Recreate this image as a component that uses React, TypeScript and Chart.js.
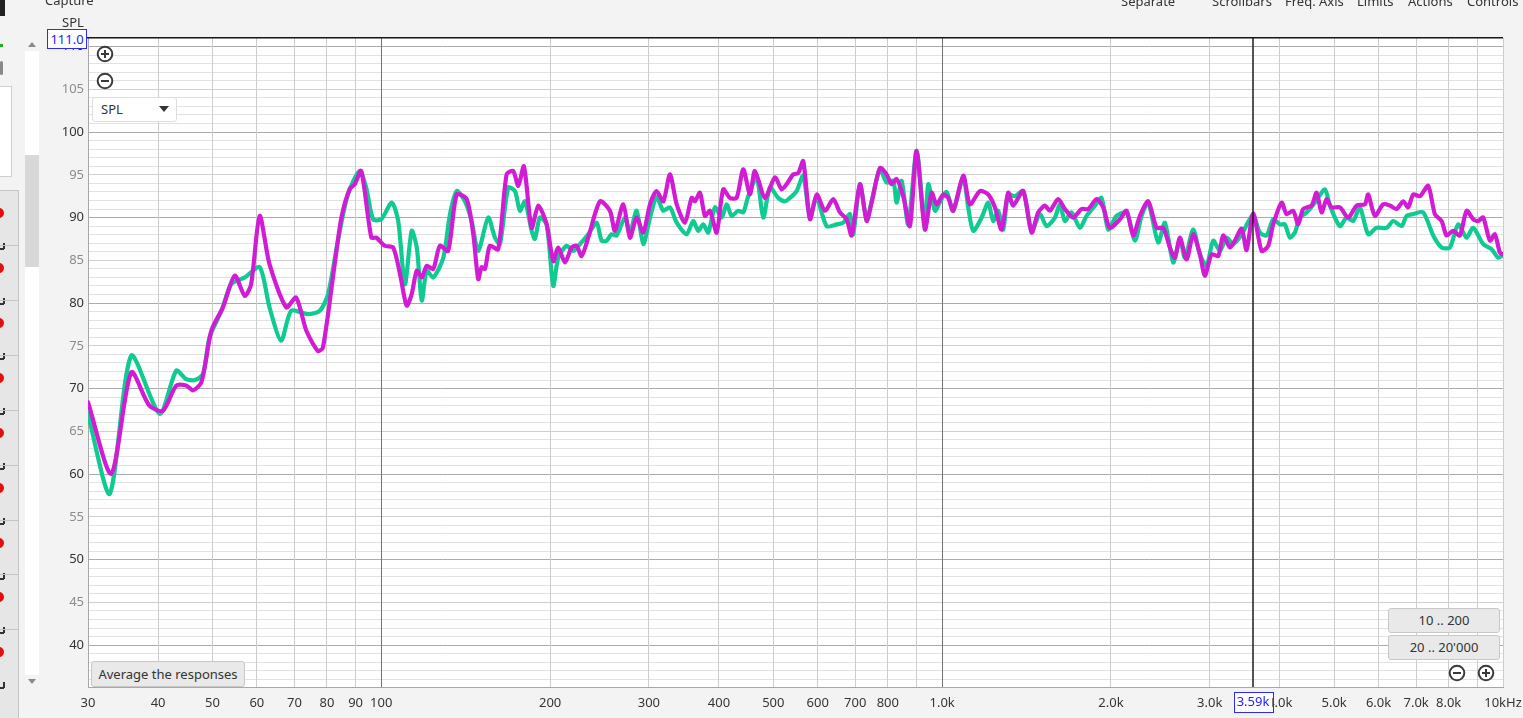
import React, { useEffect, useRef } from "react";
import { Chart, registerables } from "chart.js";

Chart.register(...registerables);

// ---- Data ----
const greenFreq = [
  30, 32.8, 35.83, 40.27, 43.1, 44.9, 46.5, 48.1, 49.4, 51.9,
  54.0, 57.1, 60.7, 63.2, 66.3, 69.1, 74.0, 77.7, 80.4, 83.7,
  87.2, 91.5, 94.0, 96.7, 100, 104.4, 107.2, 110.2, 113.3, 115.7,
  118.1, 120.5, 123.8, 129.0, 132.6, 136.3, 141.0, 144.9, 148.9, 155.1,
  159.5, 162.8, 168.4, 173.1, 176.7, 180.4, 185.4, 187.9, 191.8, 197.2,
  202.6, 206.8, 214.1, 219.9, 226.1, 233.9, 242.1, 247.1, 252.3, 257.5,
  262.8, 272, 277.6, 285.3, 293.2, 301.4, 309.7, 318.3, 327.1, 336.3,
  350.3, 359.9, 367.4, 375, 382.8, 393.5, 404.5, 412.9, 421.4, 433,
  442, 451.1, 467, 479.8, 493.2, 510.2, 524.5, 535.4, 550.3, 565.4,
  581.2, 597.4, 622.4, 648.5, 666.3, 684.9, 694.2, 713.6, 733.5, 748.7,
  774.6, 796.3, 818.1, 829.6, 846.8, 870, 900.6, 931.8, 944.6, 970.9,
  991, 1018.6, 1046.6, 1090.4, 1113, 1136.2, 1176.2, 1208.4, 1233.2, 1258.9,
  1284.9, 1311.6, 1348.2, 1394.9, 1443.8, 1493.8, 1535.5, 1588.7, 1621.8, 1655.3,
  1701.4, 1760.3, 1809.5, 1872.2, 1924.4, 1977.4, 2046.7, 2132.6, 2206.5, 2268,
  2330.2, 2427.9, 2495.6, 2582.3, 2654.3, 2709.3, 2803.2, 2881.4, 2961.7, 3043.1,
  3128, 3215.2, 3303.4, 3419.5, 3513.4, 3586.3, 3686, 3788.7, 3893, 4001.4,
  4084.4, 4169, 4255.5, 4344.1, 4464.8, 4619.6, 4813.1, 4913.1, 5119, 5261.8,
  5406.2, 5557, 5749.4, 5951.2, 6200.8, 6371.1, 6594.6, 6731.2, 6916.5, 7206.1,
  7508.2, 7771.8, 8040.9, 8319.5, 8611.6, 8847.7, 9219.2, 9542.8, 9804.6, 10000,
];
const greenSpl = [
  67.0, 57.7, 73.85, 67.05, 72.1, 71.1, 71.0, 71.7, 76.0, 79.1,
  82.2, 83.0, 84.2, 79.5, 75.6, 79.1, 78.7, 79.1, 81.05, 87.3,
  92.7, 95.45, 93.5, 89.8, 89.8, 91.75, 89.6, 82.2, 88.45, 86.5,
  80.3, 83.8, 83.0, 85.3, 90.4, 93.1, 91.9, 89.6, 86.1, 90.0,
  87.65, 86.9, 93.5, 93.1, 90.8, 91.9, 88.45, 87.5, 90.0, 89.2,
  82.0, 85.3, 86.7, 86.1, 86.9, 88.05, 89.4, 87.3, 87.3, 88.05,
  87.9, 90.0, 88.25, 90.8, 86.9, 90.0, 92.4, 90.8, 91.2, 89.4,
  88.05, 89.6, 88.45, 89.2, 88.25, 91.2, 90.0, 91.55, 90.2, 90.8,
  90.6, 92.5, 94.7, 90.0, 93.5, 92.3, 91.9, 92.3, 93.1, 94.9,
  90.0, 92.3, 89.0, 89.2, 89.4, 90.4, 88.05, 93.9, 89.8, 91.9,
  95.65, 94.1, 94.3, 91.75, 94.3, 89.2, 97.8, 88.8, 93.9, 90.8,
  91.8, 93.0, 90.8, 94.7, 91.2, 88.45, 90.0, 91.75, 89.6, 90.8,
  88.6, 92.7, 92.5, 93.1, 88.45, 90.4, 89.0, 90.0, 91.55, 89.6,
  90.6, 88.8, 90.2, 91.4, 92.3, 88.6, 90.2, 90.6, 87.3, 90.2,
  91.75, 87.1, 89.4, 84.75, 87.5, 85.3, 88.6, 85.7, 84.35, 87.3,
  86.1, 87.65, 86.9, 88.0, 89.5, 90.3, 88.25, 87.9, 89.8, 89.2,
  89.2, 87.65, 88.25, 90.0, 90.6, 91.75, 93.3, 91.4, 89.0, 90.0,
  89.6, 91.2, 88.05, 88.8, 88.8, 89.6, 89.0, 90.2, 90.4, 90.6,
  87.9, 86.5, 86.5, 89.2, 87.65, 88.8, 86.9, 86.3, 85.3, 85.6,
];

const magentaFreq = [
  30, 33.0, 35.83, 38.6, 40.8, 43.1, 44.9, 46.2, 47.8, 49.8,
  52.2, 54.8, 57.1, 58.6, 60.7, 63.2, 67.7, 70.5, 73.5, 77.1,
  78.7, 82.6, 84.9, 87.8, 89.7, 92.1, 96.0, 98.0, 101.4, 105.0,
  108.0, 111.0, 113.3, 115.7, 118.1, 120.5, 123.8, 127.2, 131.6, 136.3,
  142.0, 145.9, 148.9, 151.0, 153.1, 156.2, 161.6, 167.3, 171.9, 175.5,
  179.6, 185.4, 190.5, 197.2, 202.6, 206.8, 212.6, 218.5, 223.0, 227.6,
  233.9, 245.4, 255.7, 261.0, 270.1, 277.6, 285.3, 293.2, 301.4, 309.7,
  318.3, 327.1, 336.3, 347.9, 357.6, 362.5, 370.0, 377.7, 385.5, 396.3,
  407.1, 418.5, 430.2, 442.0, 454.3, 463.7, 483.1, 503.4, 517.4, 528.2,
  542.7, 553.9, 565.4, 581.2, 597.4, 618.1, 639.5, 657.4, 675.7, 689.7,
  713.6, 733.5, 748.7, 774.6, 796.3, 812.8, 829.6, 852.4, 876.1, 900.6,
  931.8, 957.8, 977.6, 1004.5, 1025.3, 1046.6, 1090.4, 1120.8, 1167.8, 1208.4,
  1241.8, 1276.5, 1311.6, 1338.9, 1394.9, 1443.8, 1483.4, 1524.9, 1556.4, 1610.3,
  1655.3, 1712.6, 1772.7, 1821.5, 1885.4, 1937.1, 1991.2, 2074.7, 2132.6, 2191.2,
  2252.2, 2330.2, 2412.0, 2478.3, 2547.5, 2600.3, 2654.3, 2728.3, 2803.2, 2881.4,
  2941.1, 3023.1, 3106.2, 3170.5, 3259.0, 3326.6, 3419.5, 3490.2, 3586.3, 3711.8,
  3813.7, 3893.0, 4029.5, 4113.0, 4225.8, 4313.7, 4403.1, 4557.4, 4652.1, 4748.5,
  4846.8, 4947.5, 5119.0, 5296.5, 5482.5, 5672.3, 5749.4, 5910.6, 6115.6, 6286.1,
  6461.2, 6638.5, 6776.3, 6916.5, 7109.1, 7355.8, 7560.9, 7771.8, 7933.0, 8150.5,
  8377.8, 8611.6, 8847.7, 9031.3, 9219.2, 9476.4, 9672.7, 9873.3, 10000,
];
const magentaSpl = [
  68.4, 60.05, 71.9, 68.0, 67.4, 70.35, 70.35, 69.8, 70.75, 76.8,
  79.5, 83.2, 80.85, 82.2, 90.2, 84.55, 79.5, 80.65, 76.8, 74.4,
  74.8, 84.55, 90.0, 93.3, 93.9, 95.45, 87.65, 87.65, 86.7, 86.5,
  83.4, 79.7, 81.05, 83.8, 83.0, 84.35, 84.0, 86.7, 86.1, 92.7,
  92.15, 88.05, 82.8, 84.2, 84.0, 86.7, 86.3, 95.05, 95.45, 93.7,
  96.0, 88.8, 91.4, 89.2, 84.9, 86.5, 84.75, 86.5, 86.7, 85.5,
  87.65, 91.9, 90.8, 88.45, 91.55, 87.65, 90.0, 88.25, 91.55, 93.1,
  91.9, 95.05, 91.55, 89.4, 92.3, 91.9, 92.9, 90.2, 90.8, 88.25,
  93.3, 92.3, 92.3, 95.65, 92.7, 95.45, 92.3, 94.7, 93.3, 93.9,
  95.05, 95.2, 96.6, 89.8, 92.7, 90.8, 92.15, 90.6, 89.8, 87.9,
  93.9, 89.6, 91.75, 95.8, 95.05, 93.9, 94.5, 92.5, 89.0, 97.8,
  88.6, 92.9, 91.55, 92.7, 92.3, 90.8, 94.9, 91.55, 93.1, 92.7,
  91.2, 88.6, 92.9, 91.4, 93.1, 88.25, 90.6, 91.4, 90.8, 92.15,
  91.0, 90.0, 91.0, 91.0, 92.15, 91.2, 88.8, 89.8, 90.8, 87.9,
  90.2, 91.9, 88.8, 88.8, 86.5, 85.3, 87.65, 85.1, 88.05, 85.7,
  83.2, 85.7, 85.5, 87.9, 86.5, 87.3, 88.7, 86.2, 90.5, 86.1,
  86.7, 89.2, 91.75, 90.4, 90.8, 89.2, 91.0, 91.4, 92.9, 90.6,
  92.15, 91.2, 91.2, 90.0, 91.4, 91.55, 92.7, 90.2, 91.55, 91.4,
  91.0, 91.9, 91.2, 92.7, 92.5, 93.7, 90.4, 89.6, 87.9, 88.45,
  87.9, 90.8, 89.8, 89.6, 90.0, 87.3, 88.05, 85.9, 85.7,
];

const freqGrid = [30, 40, 50, 60, 70, 80, 90, 100, 200, 300, 400, 500, 600, 700, 800, 900, 1000, 2000, 3000, 4000, 5000, 6000, 7000, 8000, 9000, 10000];
const freqLabels = ["30", "40", "50", "60", "70", "80", "90", "100", "200", "300", "400", "500", "600", "700", "800", "", "1.0k", "2.0k", "3.0k", "4.0k", "5.0k", "6.0k", "7.0k", "8.0k", "", "10kHz"];
const freqMajor = [100, 1000];
const splLabels = [40, 45, 50, 55, 60, 65, 70, 75, 80, 85, 90, 95, 100, 105, 110];
const splMin = 35.1;
const splMax = 111;
const cursorHz = 3590;
const cursorText = "3.59k";
const topValueText = "111.0";
const menuItems = [
  { text: "Separate", left: 1121 },
  { text: "Scrollbars", left: 1212 },
  { text: "Freq. Axis", left: 1285 },
  { text: "Limits", left: 1357 },
  { text: "Actions", left: 1408 },
  { text: "Controls", left: 1467 },
];

const FONT = "'Noto Sans', 'Open Sans', sans-serif";

const decorPlugin = {
  id: "decor",
  beforeDraw(chart: any) {
    const { ctx, chartArea: a } = chart;
    ctx.save();
    ctx.fillStyle = "#ffffff";
    ctx.fillRect(a.left, a.top, a.right - a.left, a.bottom - a.top);
    ctx.restore();
  },
  afterDraw(chart: any) {
    const { ctx, chartArea: a } = chart;
    ctx.save();
    // top border
    ctx.fillStyle = "#141414";
    ctx.fillRect(a.left - 2, a.top - 1, a.right - a.left + 2, 1.5);
    // cursor line
    const x = Math.round(chart.scales.x.getPixelForValue(cursorHz));
    ctx.strokeStyle = "#1c1c1c";
    ctx.lineWidth = 1.5;
    ctx.beginPath();
    ctx.moveTo(x, a.top);
    ctx.lineTo(x, a.bottom);
    ctx.stroke();
    // cursor label
    ctx.font = `13px ${FONT}`;
    const w = ctx.measureText(cursorText).width + 6;
    const bh = 20;
    const bx = x - w / 2;
    const by = a.bottom + 5;
    ctx.fillStyle = "#ffffff";
    ctx.fillRect(bx, by, w, bh);
    ctx.strokeStyle = "#2b2bff";
    ctx.lineWidth = 1;
    ctx.strokeRect(Math.round(bx) + 0.5, by + 0.5, Math.round(w), bh);
    ctx.fillStyle = "#2222ff";
    ctx.textAlign = "center";
    ctx.textBaseline = "middle";
    ctx.fillText(cursorText, x, by + bh / 2 + 0.5);
    ctx.restore();
  },
};

function CircleIcon({ x, y, plus }: { x: number; y: number; plus: boolean }) {
  return (
    <svg style={{ position: "absolute", left: x - 9, top: y - 9 }} width={18} height={18}>
      <circle cx={9} cy={9} r={7.3} fill="#fff" stroke="#3a3a3a" strokeWidth={2} />
      <line x1={5} y1={9} x2={13} y2={9} stroke="#3a3a3a" strokeWidth={2} />
      {plus && <line x1={9} y1={5} x2={9} y2={13} stroke="#3a3a3a" strokeWidth={2} />}
    </svg>
  );
}

export default function App() {
  const ref = useRef<HTMLCanvasElement>(null);

  useEffect(() => {
    document.body.style.margin = "0";
    Chart.defaults.font.family = FONT;
    const yGrid: number[] = [];
    for (let v = 36; v <= 110; v++) yGrid.push(v);

    const chart = new Chart(ref.current as HTMLCanvasElement, {
      type: "line",
      data: {
        datasets: [
          {
            label: "magenta",
            data: magentaFreq.map((f, i) => ({ x: f, y: magentaSpl[i] })),
            borderColor: "#d21cd4",
            backgroundColor: "#d21cd4",
          },
          {
            label: "green",
            data: greenFreq.map((f, i) => ({ x: f, y: greenSpl[i] })),
            borderColor: "#0fcb92",
            backgroundColor: "#0fcb92",
          },
        ],
      },
      options: {
        animation: false,
        responsive: false,
        maintainAspectRatio: false,
        layout: { padding: { top: 38, right: 20, left: 0, bottom: 0 } },
        plugins: { legend: { display: false }, tooltip: { enabled: false } },
        elements: {
          point: { radius: 0 },
          line: { borderWidth: 4.2, tension: 0.25, borderJoinStyle: "round", borderCapStyle: "round" },
        },
        scales: {
          x: {
            type: "logarithmic",
            min: 30,
            max: 10000,
            afterBuildTicks: (s: any) => {
              s.ticks = freqGrid.map((v) => ({ value: v }));
            },
            afterFit: (s: any) => {
              s.height = 31;
              s.paddingLeft = 0;
              s.paddingRight = 0;
            },
            grid: {
              z: -1,
              drawTicks: false,
              lineWidth: 1,
              color: (c: any) => (freqMajor.includes(c.tick?.value) ? "#747474" : "#cdcdcd"),
            },
            border: { color: "#a8a8a8" },
            ticks: {
              autoSkip: false,
              maxRotation: 0,
              padding: 8,
              color: "#353535",
              font: { size: 13 },
              callback: (v: any) => {
                const i = freqGrid.indexOf(Number(v));
                return i >= 0 ? freqLabels[i] : "";
              },
            },
          },
          y: {
            type: "linear",
            min: splMin,
            max: splMax,
            afterBuildTicks: (s: any) => {
              s.ticks = yGrid.map((v) => ({ value: v }));
            },
            afterFit: (s: any) => {
              s.width = 88;
              s.paddingTop = 0;
              s.paddingBottom = 0;
            },
            grid: {
              z: -3,
              drawTicks: false,
              lineWidth: 1,
              color: (c: any) => {
                const v = c.tick?.value;
                if (v % 10 === 0) return "#ababab";
                if (v % 5 === 0) return "#cfcfcf";
                return "#e2e2e2";
              },
            },
            border: { color: "#a8a8a8" },
            ticks: {
              autoSkip: false,
              padding: 4,
              font: { size: 13 },
              color: (c: any) => (c.tick?.value % 10 === 0 ? "#333333" : "#8c8c8c"),
              callback: (v: any) => (splLabels.includes(Number(v)) ? String(v) : ""),
            },
          },
        },
      },
      plugins: [decorPlugin],
    } as any);
    return () => chart.destroy();
  }, []);

  const redDots = [213, 268, 323, 378, 433, 488, 543, 597, 652];

  return (
    <div
      style={{
        position: "fixed",
        left: 0,
        top: 0,
        width: 1523,
        height: 718,
        background: "#f3f3f3",
        overflow: "hidden",
        fontFamily: FONT,
        color: "#333",
      }}
    >
      {/* left strip */}
      <div style={{ position: "absolute", left: 0, top: 0, width: 5, height: 16, background: "#222" }} />
      <div style={{ position: "absolute", left: 0, top: 44, width: 3, height: 3, background: "#2a2" }} />
      <div style={{ position: "absolute", left: 0, top: 61, width: 3, height: 14, borderRadius: 2, background: "#888" }} />
      <div style={{ position: "absolute", left: -1, top: 86, width: 11, height: 89, background: "#fff", border: "1px solid #cfcfcf" }} />
      <div style={{ position: "absolute", left: 0, top: 190, width: 18, height: 530, background: "#e6e6e6", borderRight: "1px solid #c4c4c4" }} />
      {redDots.map((y) => (
        <React.Fragment key={y}>
          <div style={{ position: "absolute", left: 0, top: y - 23, width: 18, height: 1, background: "#c4c4c4" }} />
          <div style={{ position: "absolute", left: -6, top: y - 5, width: 10, height: 10, borderRadius: 5, background: "#e01010" }} />
          <div style={{ position: "absolute", left: 3, top: y + 30, width: 1.5, height: 6, background: "#333" }} />
          <div style={{ position: "absolute", left: 0, top: y + 35, width: 4, height: 1.5, background: "#333" }} />
        </React.Fragment>
      ))}
      {/* scrollbar */}
      <svg style={{ position: "absolute", left: 27, top: 40 }} width={10} height={8}>
        <polygon points="1,7 9,7 5,2" fill="#8a8a8a" />
      </svg>
      <div style={{ position: "absolute", left: 25, top: 51, width: 14, height: 624, background: "#ffffff" }} />
      <div style={{ position: "absolute", left: 25, top: 155, width: 14, height: 112, background: "#d8d8d8" }} />
      <svg style={{ position: "absolute", left: 27, top: 678 }} width={10} height={8}>
        <polygon points="1,1 9,1 5,6" fill="#8a8a8a" />
      </svg>

      <canvas ref={ref} width={1523} height={718} style={{ position: "absolute", left: 0, top: 0, width: 1523, height: 718 }} />

      {/* header texts */}
      <div style={{ position: "absolute", left: 45, top: -9, fontSize: 13, lineHeight: "18px", color: "#333" }}>Capture</div>
      {menuItems.map((m) => (
        <div key={m.text} style={{ position: "absolute", left: m.left, top: -8, fontSize: 13, lineHeight: "18px", color: "#333", whiteSpace: "nowrap" }}>
          {m.text}
        </div>
      ))}
      <div style={{ position: "absolute", left: 62, top: 13, fontSize: 13, lineHeight: "18px", color: "#333" }}>SPL</div>
      <div
        style={{
          position: "absolute",
          left: 47,
          top: 29,
          width: 38,
          height: 18,
          border: "1px solid #2b2bff",
          background: "#fff",
          color: "#2222ff",
          fontSize: 13,
          lineHeight: "18px",
          textAlign: "center",
        }}
      >
        {topValueText}
      </div>

      {/* in-plot controls */}
      <CircleIcon x={104.5} y={54} plus={true} />
      <CircleIcon x={104.5} y={81} plus={false} />
      <div
        style={{
          position: "absolute",
          left: 92,
          top: 97,
          width: 83,
          height: 23,
          background: "#fff",
          border: "1px solid #dedede",
          borderRadius: 3,
        }}
      >
        <span style={{ position: "absolute", left: 8, top: 2, fontSize: 13, lineHeight: "18px", color: "#333" }}>SPL</span>
        <svg style={{ position: "absolute", left: 66, top: 8 }} width={10} height={7}>
          <polygon points="0,0 10,0 5,6" fill="#333" />
        </svg>
      </div>
      <div
        style={{
          position: "absolute",
          left: 91,
          top: 661,
          width: 152,
          height: 24,
          background: "#e9e9e9",
          border: "1px solid #c8c8c8",
          borderRadius: 3,
          fontSize: 13,
          lineHeight: "24px",
          textAlign: "center",
          color: "#333",
          whiteSpace: "nowrap",
        }}
      >
        Average the responses
      </div>
      <div
        style={{
          position: "absolute",
          left: 1388,
          top: 608,
          width: 110,
          height: 23,
          background: "#e9e9e9",
          border: "1px solid #c8c8c8",
          borderRadius: 3,
          fontSize: 13,
          lineHeight: "23px",
          textAlign: "center",
          color: "#333",
        }}
      >
        10 .. 200
      </div>
      <div
        style={{
          position: "absolute",
          left: 1388,
          top: 635,
          width: 110,
          height: 23,
          background: "#e9e9e9",
          border: "1px solid #c8c8c8",
          borderRadius: 3,
          fontSize: 13,
          lineHeight: "23px",
          textAlign: "center",
          color: "#333",
        }}
      >
        20 .. 20'000
      </div>
      <CircleIcon x={1456.5} y={673} plus={false} />
      <CircleIcon x={1485.5} y={673} plus={true} />
    </div>
  );
}
